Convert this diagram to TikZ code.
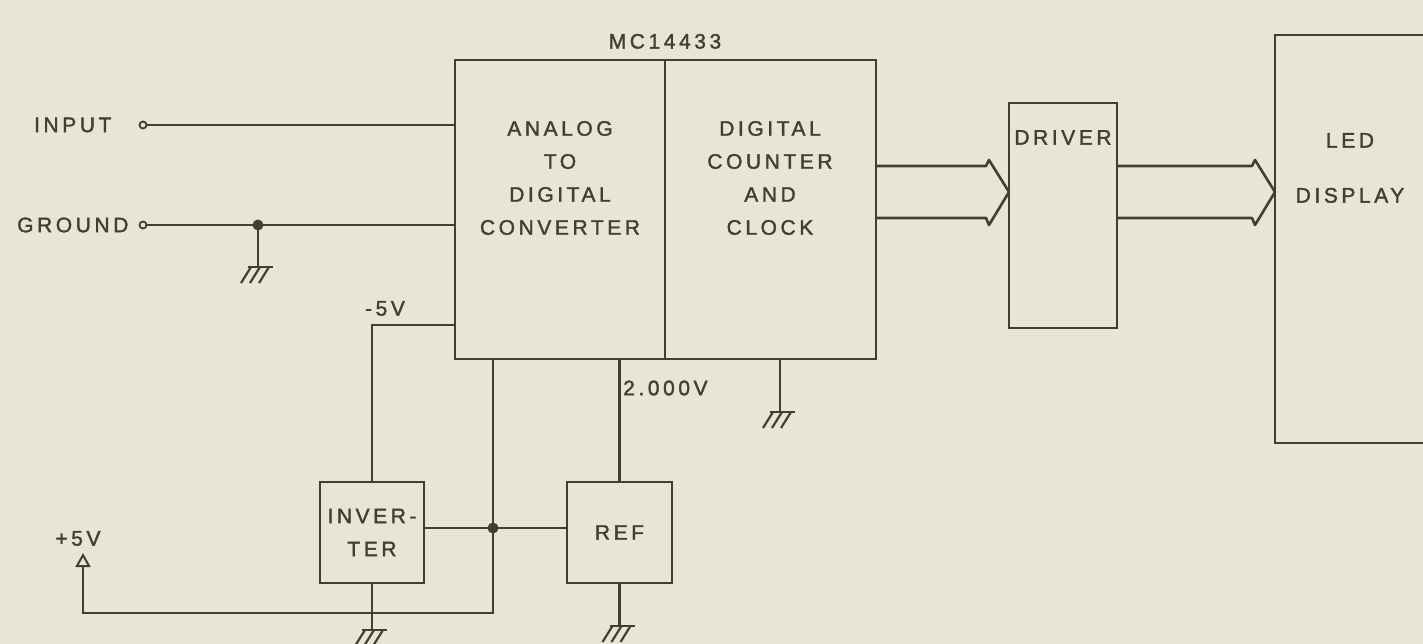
\documentclass[tikz,border=0pt]{standalone}
\usepackage{fontspec}
\setmainfont{Liberation Sans}
\newfontfamily\leroy{Liberation Sans}[LetterSpace=17, FakeBold=1.6]
\usepackage{tikz}
\usetikzlibrary{positioning,calc,arrows.meta}

\definecolor{paper}{RGB}{233,229,212}
\definecolor{ink}{RGB}{66,62,54}

\tikzset{
  wire/.style={draw=ink, line width=2.6pt},
  blk/.style={draw=ink, line width=2.6pt, rectangle, inner sep=0pt, outer sep=0pt, anchor=north west},
  lbl/.style={text=ink, font=\leroy\fontsize{21}{33}\selectfont, align=center, inner sep=0pt},
  dot/.style={circle, fill=ink, inner sep=0pt, minimum size=11pt},
  term/.style={circle, draw=ink, line width=1.8pt, fill=paper, inner sep=0pt, minimum size=7pt},
}

% ground symbol hung from a point
\newcommand{\gnd}[1]{%
  \draw[wire, line width=2.2pt] ($(#1)+(-10,0)$) -- ($(#1)+(15,0)$);
  \foreach \dx in {-7,2,11}
    \draw[wire, line width=2.2pt] ($(#1)+(\dx,0)$) -- ++(-10,16);
}
% wide bus arrow ending at a tip
\newcommand{\bus}[2]{%
  \draw[wire, line join=round] ($(#2 -| #1)+(0,-26)$) -- ($(#2)+(-23,-26)$)
    -- ($(#2)+(-20,-32)$) -- (#2) -- ($(#2)+(-20,33)$)
    -- ($(#2)+(-23,26)$) -- ($(#2 -| #1)+(0,26)$);
}

\begin{document}
\begin{tikzpicture}[x=1pt, y=-1pt]
\fill[paper] (0,0) rectangle (1423,644);
\clip (0,0) rectangle (1423,644);

% chip
\node[blk, minimum width=210pt, minimum height=299pt] (adc) at (455,60) {};
\node[blk, minimum width=211pt, minimum height=299pt] (dcc) at (665,60) {};
\node[lbl, above=11pt of dcc.north west] (chipname) {MC14433};
\node[lbl] (adctxt) at (560,178) {ANALOG\\TO\\DIGITAL\\CONVERTER};
\node[lbl] (dcctxt) at (770,178) {DIGITAL\\COUNTER\\AND\\CLOCK};

% driver and display
\node[blk, minimum width=108pt, minimum height=225pt] (drv) at (1009,103) {};
\node[lbl, below=27pt of drv.north] (drvtxt) {DRIVER};
\node[blk, minimum width=150pt, minimum height=408pt] (led) at (1275,35) {};
\node[lbl] (ledtxt) at (1350,168) {LED\\[22pt]DISPLAY};

% inverter and reference
\node[blk, lbl, minimum width=104pt, minimum height=101pt] (inv) at (320,482) {INVER-\\TER};
\node[blk, lbl, minimum width=105pt, minimum height=101pt] (ref) at (567,482) {REF};

% inputs
\node[term] (inpt) at (143,125) {};
\node[term] (gndt) at (143,225) {};
\node[lbl, left=27pt of inpt] (inlbl) {INPUT};
\node[lbl, left=10pt of gndt] (gndlbl) {GROUND};
\draw[wire] (inpt) -- (inpt -| adc.west);
\draw[wire] (gndt) -- (gndt -| adc.west);
\node[dot] (gj) at (258,225) {};
\coordinate (g1) at (258,267);
\draw[wire] (gj.center) -- (g1);
\gnd{g1}

% -5V from the inverter
\coordinate (m5) at (372,325);
\draw[wire] (m5 -| adc.west) -- (m5) -- (inv.north);
\node[lbl, anchor=south] (m5lbl) at (385,316) {-5V};

% +5V supply
\node[dot] (sj) at (493,528) {};
\coordinate (vs) at (493,613);
\coordinate (p5) at (83,553);
\draw[wire, -{Triangle[open, length=14pt, width=15pt, line width=2pt]}]
  (sj |- adc.south) -- (vs) -| (p5);
\draw[wire] (inv.east |- sj) -- (ref.west |- sj);
\node[lbl, above=7pt of p5, xshift=-5pt] (p5lbl) {+5V};

% 2.000V reference
\draw[wire] (ref.north) -- (ref.north |- adc.south);
\node[lbl, anchor=west] (reflbl) at (623,388) {2.000V};

% grounds
\coordinate (g2) at (780,412);
\draw[wire] (dcc.south -| g2) -- (g2);
\gnd{g2}
\coordinate (g3) at ($(inv.south)+(0,47)$);
\draw[wire] (inv.south) -- (g3);
\gnd{g3}
\coordinate (g4) at ($(ref.south)+(0,43)$);
\draw[wire] (ref.south) -- (g4);
\gnd{g4}

% buses
\coordinate (b1) at (1009,192);
\coordinate (b2) at (1275,192);
\bus{dcc.east}{b1}
\bus{drv.east}{b2}
\end{tikzpicture}
\end{document}
